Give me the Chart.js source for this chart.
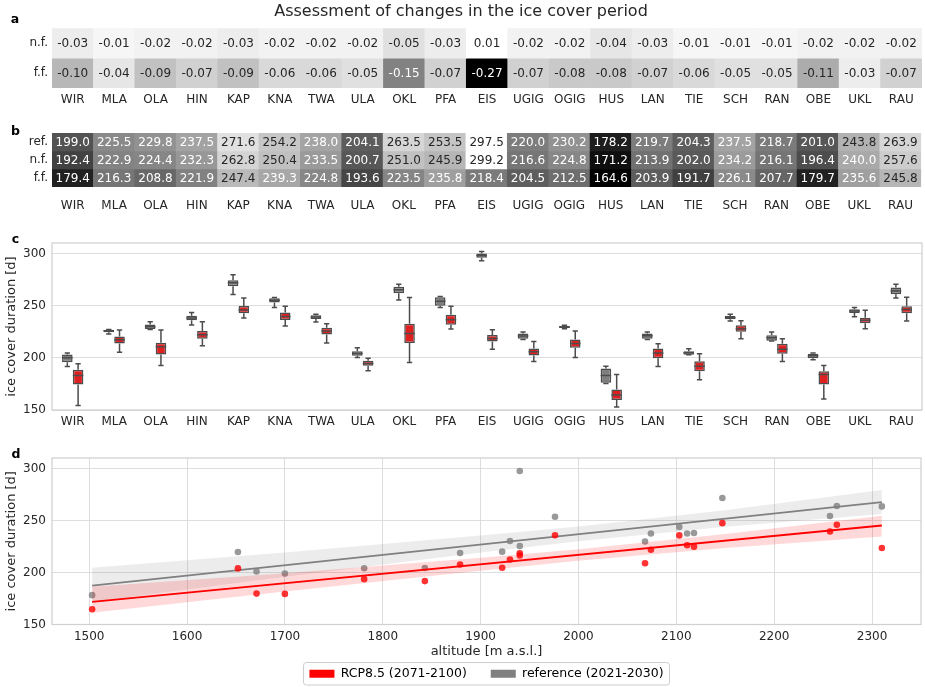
<!DOCTYPE html>
<html>
<head>
<meta charset="utf-8">
<script src="https://cdn.jsdelivr.net/npm/chart.js@4.4.0/dist/chart.umd.min.js"></script>
<style>
  html, body { margin: 0; padding: 0; background: #fff; overflow: hidden; }
  canvas { position: absolute; left: 0; }
</style>
</head>
<body>
<canvas id="chartA" width="925" height="116" style="top:0px"></canvas>
<canvas id="chartB" width="925" height="100" style="top:116px"></canvas>
<canvas id="chartC" width="925" height="214" style="top:216px"></canvas>
<canvas id="chartD" width="925" height="260" style="top:430px"></canvas>
<script>
const stations = ["WIR", "MLA", "OLA", "HIN", "KAP", "KNA", "TWA", "ULA", "OKL", "PFA", "EIS",
  "UGIG", "OGIG", "HUS", "LAN", "TIE", "SCH", "RAN", "OBE", "UKL", "RAU"];

// panel a: relative change
const changeNf = [-0.03, -0.01, -0.02, -0.02, -0.03, -0.02, -0.02, -0.02, -0.05, -0.03, 0.01,
  -0.02, -0.02, -0.04, -0.03, -0.01, -0.01, -0.01, -0.02, -0.02, -0.02];
const changeFf = [-0.10, -0.04, -0.09, -0.07, -0.09, -0.06, -0.06, -0.05, -0.15, -0.07, -0.27,
  -0.07, -0.08, -0.08, -0.07, -0.06, -0.05, -0.05, -0.11, -0.03, -0.07];

// panel b: ice cover duration [d]
const durRef = [199.0, 225.5, 229.8, 237.5, 271.6, 254.2, 238.0, 204.1, 263.5, 253.5, 297.5,
  220.0, 230.2, 178.2, 219.7, 204.3, 237.5, 218.7, 201.0, 243.8, 263.9];
const durNf = [192.4, 222.9, 224.4, 232.3, 262.8, 250.4, 233.5, 200.7, 251.0, 245.9, 299.2,
  216.6, 224.8, 171.2, 213.9, 202.0, 234.2, 216.1, 196.4, 240.0, 257.6];
const durFf = [179.4, 216.3, 208.8, 221.9, 247.4, 239.3, 224.8, 193.6, 223.5, 235.8, 218.4,
  204.5, 212.5, 164.6, 203.9, 191.7, 226.1, 207.7, 179.7, 235.6, 245.8];

// panel c: box statistics, reference (2021-2030)
const refLow = [191.7, 222.8, 227.2, 231.4, 260.6, 248.1, 234.3, 200.3, 255.4, 248.1, 292.9,
  217.6, 227.9, 175.3, 217.6, 202.9, 235.3, 216.1, 198.1, 239.4, 257.4];
const refQ1 = [195.8, 224.4, 227.6, 235.9, 268.6, 252.9, 237.2, 201.9, 261.9, 250.0, 295.8,
  218.3, 228.5, 176.0, 218.3, 202.9, 236.9, 216.4, 199.7, 243.0, 260.9];
const refMed = [200.0, 226.0, 229.8, 238.1, 271.8, 255.1, 239.1, 204.2, 265.1, 254.2, 298.1,
  220.8, 229.5, 183.0, 221.2, 204.8, 238.5, 219.2, 201.9, 244.9, 264.1];
const refQ3 = [203.2, 226.9, 232.0, 240.4, 274.4, 257.1, 240.7, 206.4, 268.0, 258.0, 300.0,
  223.4, 230.5, 189.7, 223.4, 206.4, 240.1, 221.5, 203.9, 246.5, 267.3];
const refHigh = [204.5, 227.2, 234.6, 243.3, 279.5, 257.7, 241.7, 209.6, 270.5, 258.7, 301.9,
  224.7, 231.1, 192.0, 224.7, 208.7, 241.7, 224.7, 204.5, 248.1, 270.5];

// panel c: box statistics, RCP8.5 (2071-2100)
const ffLow = [154.2, 205.4, 192.6, 211.5, 238.1, 230.5, 214.1, 187.5, 195.5, 227.6, 208.3,
  196.5, 200.3, 152.9, 191.7, 178.9, 218.3, 196.5, 160.6, 227.9, 235.3];
const ffQ1 = [174.4, 213.8, 203.2, 218.3, 242.7, 236.2, 222.4, 192.3, 214.1, 231.7, 215.7,
  202.2, 209.6, 159.6, 199.7, 187.2, 225.0, 203.9, 174.4, 233.0, 242.6];
const ffMed = [183.0, 217.3, 210.6, 222.1, 245.8, 239.7, 225.6, 194.6, 223.4, 236.5, 218.6,
  205.8, 213.8, 164.4, 204.5, 192.0, 227.9, 208.3, 184.0, 235.9, 246.2];
const ffQ3 = [188.5, 220.5, 214.4, 225.6, 249.7, 243.3, 228.8, 197.1, 232.7, 241.3, 221.8,
  209.0, 217.6, 169.6, 209.0, 196.8, 231.1, 213.5, 187.2, 238.5, 249.4];
const ffHigh = [194.2, 226.6, 226.6, 234.6, 257.4, 249.4, 232.7, 199.7, 257.7, 249.4, 226.9,
  215.7, 225.6, 184.0, 213.5, 203.9, 235.6, 218.3, 192.6, 245.5, 258.0];

// panel d: station altitude [m a.s.l.]
const altitude = [1700, 1940, 2068, 2074, 2147, 2257, 2118, 1781, 2310, 1976, 1940,
  1922, 1930, 1503, 1652, 1843, 2111, 1879, 1671, 2103, 2264];

// panel d: confidence bands
const bandAlt = [1503, 1700, 1900, 2000, 2150, 2310];
const refBandHi = [204.5, 219.3, 235.6, 244.2, 259.9, 279.3];
const refBandLo = [171.8, 195.8, 219.1, 230.0, 243.9, 256.1];
const ffBandHi = [186.2, 199.3, 214.1, 222.3, 237.0, 254.5];
const ffBandLo = [161.2, 181.8, 201.6, 211.3, 223.5, 234.5];

Chart.defaults.font.family = "'DejaVu Sans', sans-serif";
Chart.defaults.color = "#262626";
Chart.defaults.animation = false;

const INK = "#262626";
const GRID = "#dddddd";

// matplotlib "Greys", used reversed
const greyStops = [255, 240, 217, 189, 150, 115, 82, 37, 0];
const greysR = (t) => {
  const s = Math.min(Math.max(1 - t, 0), 1) * 8;
  const i = Math.min(Math.floor(s), 7);
  return greyStops[i] + (greyStops[i + 1] - greyStops[i]) * (s - i);
};
const lumOf = (g) => {
  const c = g / 255;
  return c <= 0.03928 ? c / 12.92 : Math.pow((c + 0.055) / 1.055, 2.4);
};

const panelLetter = {
  id: "panelLetter",
  afterDraw(chart, args, opts) {
    if (!opts.text) return;
    const ctx = chart.ctx;
    ctx.save();
    ctx.font = "bold 12.5px 'DejaVu Sans'";
    ctx.fillStyle = "#000";
    ctx.textAlign = "center";
    ctx.textBaseline = "alphabetic";
    ctx.fillText(opts.text, opts.x, opts.y);
    ctx.restore();
  },
};

const cellText = {
  id: "cellText",
  afterDatasetsDraw(chart) {
    const ctx = chart.ctx;
    ctx.save();
    ctx.font = "12px 'DejaVu Sans'";
    ctx.textAlign = "center";
    ctx.textBaseline = "middle";
    chart.data.datasets.forEach((ds, di) => {
      chart.getDatasetMeta(di).data.forEach((bar, j) => {
        ctx.fillStyle = ds.textColor[j];
        ctx.fillText(ds.values[j].toFixed(ds.digits), bar.x, (bar.y + bar.base) / 2 + 0.5);
      });
    });
    ctx.restore();
  },
};

const frame = {
  id: "frame",
  afterDatasetsDraw(chart) {
    const { ctx, chartArea: a } = chart;
    ctx.save();
    ctx.strokeStyle = "#d0d0d0";
    ctx.lineWidth = 1.25;
    ctx.strokeRect(a.left, a.top, a.right - a.left, a.bottom - a.top);
    ctx.restore();
  },
};

const whiskers = {
  id: "whiskers",
  afterDatasetsDraw(chart) {
    const { ctx } = chart;
    const y = chart.scales.y;
    ctx.save();
    ctx.strokeStyle = "#4c4c4c";
    ctx.lineWidth = 1.5;
    chart.data.datasets.forEach((ds, di) => {
      chart.getDatasetMeta(di).data.forEach((bar, j) => {
        const [q1, q3] = ds.data[j];
        const half = bar.width / 2;
        const yLow = y.getPixelForValue(ds.low[j]);
        const yHigh = y.getPixelForValue(ds.high[j]);
        const yMed = y.getPixelForValue(ds.med[j]);
        ctx.beginPath();
        ctx.moveTo(bar.x, y.getPixelForValue(q1));
        ctx.lineTo(bar.x, yLow);
        ctx.moveTo(bar.x, y.getPixelForValue(q3));
        ctx.lineTo(bar.x, yHigh);
        ctx.moveTo(bar.x - half / 2, yLow);
        ctx.lineTo(bar.x + half / 2, yLow);
        ctx.moveTo(bar.x - half / 2, yHigh);
        ctx.lineTo(bar.x + half / 2, yHigh);
        ctx.moveTo(bar.x - half, yMed);
        ctx.lineTo(bar.x + half, yMed);
        ctx.stroke();
      });
    });
    ctx.restore();
  },
};

const legendFrame = {
  id: "legendFrame",
  afterDraw(chart) {
    const lg = chart.legend;
    if (!lg || !lg.legendHitBoxes || !lg.legendHitBoxes.length) return;
    const boxes = lg.legendHitBoxes;
    const left = Math.min(...boxes.map((b) => b.left)) - 6;
    const right = Math.max(...boxes.map((b) => b.left + b.width)) + 6;
    const top = boxes[0].top - 5;
    const bottom = boxes[0].top + boxes[0].height + 5;
    const ctx = chart.ctx;
    ctx.save();
    ctx.strokeStyle = "#cccccc";
    ctx.lineWidth = 1;
    ctx.beginPath();
    if (ctx.roundRect) ctx.roundRect(left, top, right - left, bottom - top, 3);
    else ctx.rect(left, top, right - left, bottom - top);
    ctx.stroke();
    ctx.restore();
  },
};

const heatmap = (id, rows, rowLabels, digits, cfg) => {
  const all = rows.flat();
  const vmin = Math.min(...all);
  const vmax = Math.max(...all);
  const datasets = rows.map((vals, r) => {
    const greys = vals.map((v) => greysR((v - vmin) / (vmax - vmin)));
    return {
      data: vals.map(() => [r, r + 1]),
      values: vals,
      digits: digits,
      backgroundColor: greys.map((g) => `rgb(${g.toFixed(0)},${g.toFixed(0)},${g.toFixed(0)})`),
      textColor: greys.map((g) => (lumOf(g) > 0.408 ? INK : "#ffffff")),
      borderWidth: 0,
      grouped: false,
      categoryPercentage: 1,
      barPercentage: 1,
    };
  });
  return new Chart(document.getElementById(id), {
    type: "bar",
    data: { labels: stations, datasets: datasets },
    options: {
      responsive: false,
      layout: { padding: { top: cfg.padTop, right: 3 } },
      plugins: {
        legend: { display: false },
        tooltip: { enabled: false },
        title: cfg.title || { display: false },
        panelLetter: cfg.letter,
      },
      scales: {
        x: {
          grid: { display: false, drawTicks: false },
          border: { display: false },
          ticks: { color: INK, font: { size: 12 }, padding: cfg.xPad, autoSkip: false, maxRotation: 0 },
          afterFit: (s) => { s.height = cfg.xHeight; },
        },
        y: {
          min: 0,
          max: rows.length,
          reverse: true,
          grid: { display: false, drawTicks: false },
          border: { display: false },
          afterBuildTicks: (s) => { s.ticks = rowLabels.map((_, i) => ({ value: i + 0.5 })); },
          ticks: { color: INK, font: { size: 12 }, padding: 4, callback: (v) => rowLabels[Math.floor(v)] },
          afterFit: (s) => { s.width = 52; },
        },
      },
    },
    plugins: [cellText, panelLetter],
  });
};

heatmap("chartA", [changeNf, changeFf], ["n.f.", "f.f."], 2, {
  padTop: 0,
  xPad: 5,
  xHeight: 28,
  title: {
    display: true,
    text: "Assessment of changes in the ice cover period",
    color: INK,
    font: { size: 16, weight: "normal" },
    padding: { top: 2, bottom: 7 },
  },
  letter: { text: "a", x: 15, y: 23 },
});

heatmap("chartB", [durRef, durNf, durFf], ["ref.", "n.f.", "f.f."], 1, {
  padTop: 17,
  xPad: 12,
  xHeight: 29,
  letter: { text: "b", x: 15.5, y: 19 },
});

// panel c: boxplots
const boxSet = (q1, q3, low, med, high, fill) => ({
  data: q1.map((q, i) => [q, q3[i]]),
  low: low,
  med: med,
  high: high,
  backgroundColor: fill,
  borderColor: "#4c4c4c",
  borderWidth: 1.5,
  borderSkipped: false,
  categoryPercentage: 0.52,
  barPercentage: 0.98,
});

const durationAxis = {
  min: 150,
  max: 310,
  ticks: { stepSize: 50, includeBounds: false, color: INK, font: { size: 12 }, padding: 6 },
  grid: { color: GRID, drawTicks: false },
  border: { display: false },
  title: { display: true, text: "ice cover duration [d]", color: INK, font: { size: 13 }, padding: { top: 4, bottom: 0 } },
  afterFit: (s) => { s.width = 52; },
};

new Chart(document.getElementById("chartC"), {
  type: "bar",
  data: {
    labels: stations,
    datasets: [
      boxSet(refQ1, refQ3, refLow, refMed, refHigh, "#7f7f7f"),
      boxSet(ffQ1, ffQ3, ffLow, ffMed, ffHigh, "#df2020"),
    ],
  },
  options: {
    responsive: false,
    layout: { padding: { top: 27, right: 3 } },
    plugins: {
      legend: { display: false },
      tooltip: { enabled: false },
      panelLetter: { text: "c", x: 15.5, y: 27 },
    },
    scales: {
      x: {
        grid: { display: false, drawTicks: false },
        border: { display: false },
        ticks: { color: INK, font: { size: 12 }, padding: 5, autoSkip: false, maxRotation: 0 },
        afterFit: (s) => { s.height = 20; },
      },
      y: durationAxis,
    },
  },
  plugins: [whiskers, frame, panelLetter],
});

// panel d: regression on altitude
const fitLine = (xs, ys) => {
  const n = xs.length;
  const mx = xs.reduce((a, b) => a + b, 0) / n;
  const my = ys.reduce((a, b) => a + b, 0) / n;
  let sxx = 0;
  let sxy = 0;
  xs.forEach((x, i) => {
    sxx += (x - mx) * (x - mx);
    sxy += (x - mx) * (ys[i] - my);
  });
  const slope = sxy / sxx;
  return [Math.min(...xs), Math.max(...xs)].map((x) => ({ x: x, y: my + slope * (x - mx) }));
};

const pts = (ys) => altitude.map((a, i) => ({ x: a, y: ys[i] }));
const band = (ys) => bandAlt.map((a, i) => ({ x: a, y: ys[i] }));

const lineSet = (data, color) => ({
  type: "line", data: data, borderColor: color, borderWidth: 1.8, pointRadius: 0, fill: false,
});
const bandSet = (data, fill, color) => ({
  type: "line", data: data, borderColor: "transparent", borderWidth: 0, pointRadius: 0,
  fill: fill, backgroundColor: color,
});
const pointSet = (data, color) => ({
  type: "scatter", data: data, backgroundColor: color, borderWidth: 0, pointRadius: 3.3,
});

new Chart(document.getElementById("chartD"), {
  type: "scatter",
  data: {
    datasets: [
      pointSet(pts(durFf), "rgba(255,0,0,0.8)"),
      lineSet(fitLine(altitude, durFf), "#ff0000"),
      bandSet(band(ffBandHi), "+1", "rgba(255,0,0,0.15)"),
      bandSet(band(ffBandLo), false, "transparent"),
      pointSet(pts(durRef), "rgba(128,128,128,0.8)"),
      lineSet(fitLine(altitude, durRef), "#808080"),
      bandSet(band(refBandHi), "+1", "rgba(128,128,128,0.15)"),
      bandSet(band(refBandLo), false, "transparent"),
    ],
  },
  options: {
    responsive: false,
    layout: { padding: { top: 28, right: 3 } },
    plugins: {
      tooltip: { enabled: false },
      panelLetter: { text: "d", x: 16, y: 28 },
      legend: {
        display: true,
        position: "bottom",
        fullSize: false,
        labels: {
          boxWidth: 25,
          boxHeight: 8,
          padding: 24,
          color: INK,
          font: { size: 12.5 },
          generateLabels: () => [
            { text: "RCP8.5 (2071-2100)", fillStyle: "#ff0000", strokeStyle: "#ff0000", lineWidth: 0, hidden: false, datasetIndex: 0 },
            { text: "reference (2021-2030)", fillStyle: "#808080", strokeStyle: "#808080", lineWidth: 0, hidden: false, datasetIndex: 4 },
          ],
        },
      },
    },
    scales: {
      x: {
        type: "linear",
        min: 1462,
        max: 2350,
        ticks: { stepSize: 100, includeBounds: false, color: INK, font: { size: 12 }, padding: 5, callback: (v) => String(v) },
        grid: { color: GRID, drawTicks: false },
        border: { display: false },
        title: { display: true, text: "altitude [m a.s.l.]", color: INK, font: { size: 13 }, padding: { top: 0, bottom: -16 } },
        afterFit: (s) => { s.height = 19; },
      },
      y: durationAxis,
    },
  },
  plugins: [frame, legendFrame, panelLetter],
});
</script>
</body>
</html>
